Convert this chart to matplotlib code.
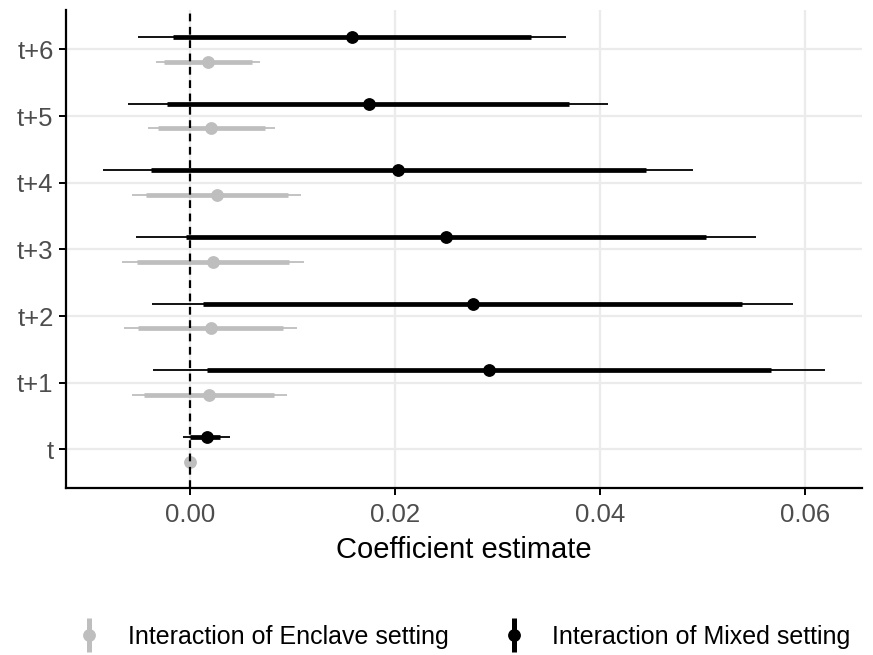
import matplotlib.pyplot as plt
from matplotlib.lines import Line2D
from matplotlib.legend_handler import HandlerTuple
import numpy as np

plt.rcParams['font.family'] = ['Liberation Sans', 'DejaVu Sans']

periods = ["t", "t+1", "t+2", "t+3", "t+4", "t+5", "t+6"]

# enclave setting: estimate, 90% CI, 95% CI
enc_est = [0.00003, 0.00185, 0.00202, 0.00228, 0.00260, 0.00205, 0.00173]
enc_lo90 = [-0.00002, -0.00446, -0.00504, -0.00520, -0.00432, -0.00309, -0.00250]
enc_hi90 = [0.00008, 0.00822, 0.00910, 0.00969, 0.00953, 0.00732, 0.00602]
enc_lo95 = [-0.00004, -0.00563, -0.00641, -0.00660, -0.00569, -0.00407, -0.00335]
enc_hi95 = [0.00010, 0.00943, 0.01045, 0.01117, 0.01088, 0.00829, 0.00683]

# mixed setting
mix_est = [0.00163, 0.02920, 0.02758, 0.02497, 0.02029, 0.01743, 0.01584]
mix_lo90 = [0.00000, 0.00169, 0.00130, -0.00042, -0.00384, -0.00227, -0.00169]
mix_hi90 = [0.00290, 0.05675, 0.05384, 0.05039, 0.04447, 0.03703, 0.03332]
mix_lo95 = [-0.00065, -0.00364, -0.00374, -0.00530, -0.00852, -0.00602, -0.00504]
mix_hi95 = [0.00390, 0.06197, 0.05889, 0.05521, 0.04906, 0.04082, 0.03667]

grey = "#BEBEBE"
dodge = 0.185

fig = plt.figure(figsize=(8.73, 6.55), dpi=100)
ax = fig.add_axes([66 / 873, 1 - 488 / 655, (862 - 66) / 873, (488 - 10) / 655])

y = np.arange(len(periods))

for est, lo90, hi90, lo95, hi95, col, off in [
        (enc_est, enc_lo90, enc_hi90, enc_lo95, enc_hi95, grey, -dodge),
        (mix_est, mix_lo90, mix_hi90, mix_lo95, mix_hi95, "black", dodge)]:
    yy = y + off
    ax.hlines(yy, lo95, hi95, color=col, lw=1.3, zorder=3)
    ax.hlines(yy, lo90, hi90, color=col, lw=3.4, zorder=3)
    ax.plot(est, yy, "o", color=col, ms=8.2, zorder=4)

ax.axvline(0, color="black", lw=1.6, ls=(0, (3.5, 2.5)), zorder=5)

ax.set_xlim(-0.0121, 0.0656)
ax.set_ylim(-0.58, 6.59)
ax.set_xticks([0.0, 0.02, 0.04, 0.06])
ax.set_xticklabels(["0.00", "0.02", "0.04", "0.06"])
ax.set_yticks(y)
ax.set_yticklabels(periods)

ax.grid(True, color="#EBEBEB", lw=1.6, zorder=0)
ax.set_axisbelow(True)
for s in ["top", "right"]:
    ax.spines[s].set_visible(False)
for s in ["left", "bottom"]:
    ax.spines[s].set_linewidth(1.6)
    ax.spines[s].set_color("black")
ax.tick_params(axis="both", colors="black", width=1.4, length=5,
               labelsize=18.5, labelcolor="#4D4D4D")
ax.tick_params(axis="x", pad=6)
ax.tick_params(axis="y", pad=4)
ax.set_xlabel("Coefficient estimate", fontsize=21, labelpad=6)

h_enc = (Line2D([], [], color=grey, marker="|", ms=25, mew=3.6, ls="none"),
         Line2D([], [], color=grey, marker="o", ms=8.2, ls="none"))
h_mix = (Line2D([], [], color="black", marker="|", ms=25, mew=3.6, ls="none"),
         Line2D([], [], color="black", marker="o", ms=8.2, ls="none"))
fig.legend([h_enc, h_mix],
           ["Interaction of Enclave setting", "Interaction of Mixed setting"],
           handler_map={tuple: HandlerTuple(ndivide=1, pad=0)},
           loc="center left", bbox_to_anchor=(64 / 873, 1 - 637 / 655),
           ncol=2, frameon=False, fontsize=18, handlelength=1.2,
           handletextpad=0.95, columnspacing=2.0, borderaxespad=0)

fig.savefig("out.png", dpi=100)
